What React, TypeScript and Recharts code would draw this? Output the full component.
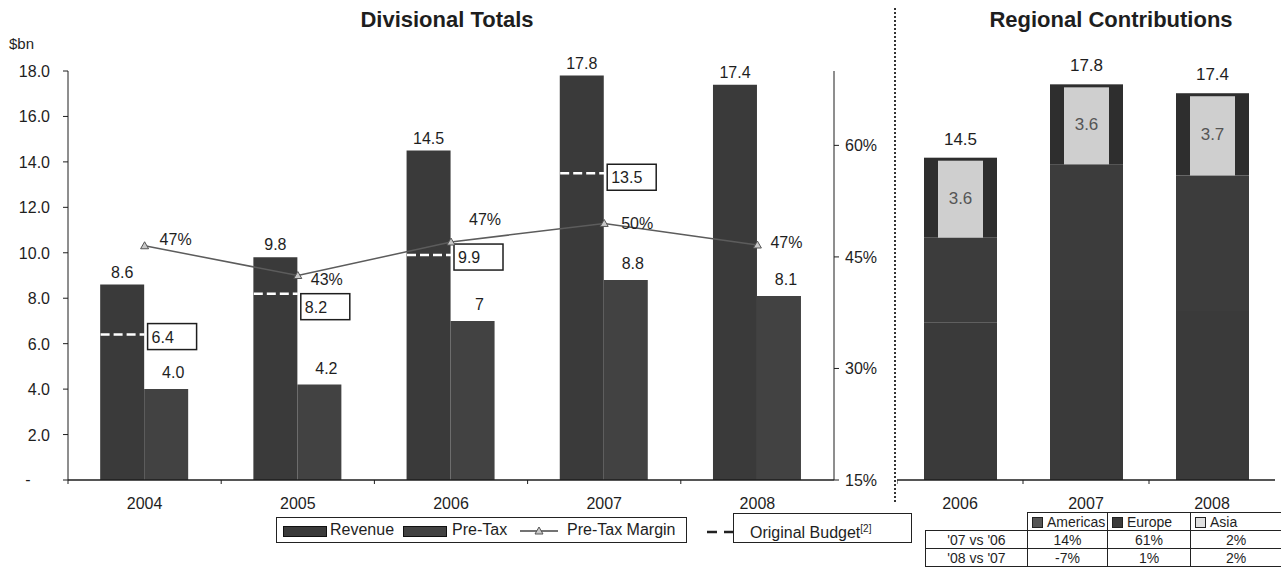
import React from 'react';
import { ComposedChart, BarChart, Bar, Line, XAxis, YAxis, LabelList } from 'recharts';

const YEARS = ['2004', '2005', '2006', '2007', '2008'];
const REVENUE = [8.6, 9.8, 14.5, 17.8, 17.4];
const PRE_TAX = [4.0, 4.2, 7.0, 8.8, 8.1];
const PRE_TAX_LABELS = ['4.0', '4.2', '7', '8.8', '8.1'];
const MARGIN = [46.5, 42.5, 47, 49.5, 46.6];
const BUDGET = [6.4, 8.2, 9.9, 13.5, null];

const LEFT_TICKS = [0, 2, 4, 6, 8, 10, 12, 14, 16, 18];
const RIGHT_TICKS = [15, 30, 45, 60];

const REGION_YEARS = ['2006', '2007', '2008'];
const AMERICAS = [7.1, 8.1, 7.6];
const EUROPE = [3.8, 6.1, 6.1];
const ASIA = [3.6, 3.6, 3.7];

const TABLE_HEAD = ['Americas', 'Europe', 'Asia'];
const TABLE_ROWS = ["'07 vs '06", "'08 vs '07"];
const TABLE_VALUES = [
  ['14%', '61%', '2%'],
  ['-7%', '1%', '2%'],
];

const FONT = '"Liberation Sans", Arial, sans-serif';
const INK = '#1e1e1e';
const BAR_DARK = '#3a3a3a';
const BAR_DARK2 = '#424242';
const BAR_W = 44;
const BAND_LEFT = 153.2;
const BAND_RIGHT = 126;
const FS = 16;

// small offsets for the margin % labels and budget boxes, one per year
const MARGIN_LABEL_DX = [31, 29, 34, 33, 29];
const MARGIN_LABEL_DY = [-7, 3, -23, 0, -3];
const BUDGET_BOX_DY = [-11, 0, -11, -9, -11];

const divData = YEARS.map((year, i) => ({
  year,
  revenue: REVENUE[i],
  preTax: PRE_TAX[i],
  margin: MARGIN[i],
  budget: BUDGET[i],
}));

const regData = REGION_YEARS.map((year, i) => ({
  year,
  americas: AMERICAS[i],
  europe: EUROPE[i],
  asia: ASIA[i],
  total: AMERICAS[i] + EUROPE[i] + ASIA[i],
}));

const makeYearTick = (band: number) => (props: any) => {
  const { x, y, payload } = props;
  const axisY = y - 8;
  return (
    <g>
      <line x1={x - band / 2} x2={x - band / 2} y1={axisY} y2={axisY + 4} stroke={INK} strokeWidth={1} />
      <text x={x} y={axisY + 29} textAnchor="middle" fontSize={FS} fontFamily={FONT} fill={INK}>
        {payload.value}
      </text>
    </g>
  );
};

const LeftTick = (props: any) => {
  const { x, y, payload } = props;
  if (payload.value === 0) {
    return (
      <text x={x - 22} y={y + 5} textAnchor="middle" fontSize={FS} fontFamily={FONT} fill={INK}>
        -
      </text>
    );
  }
  return (
    <text x={x} y={y + 6} textAnchor="end" fontSize={FS} fontFamily={FONT} fill={INK}>
      {payload.value.toFixed(1)}
    </text>
  );
};

const RightTick = (props: any) => {
  const { x, y, payload } = props;
  return (
    <text x={x} y={y + 6} textAnchor="start" fontSize={FS} fontFamily={FONT} fill={INK}>
      {payload.value}%
    </text>
  );
};

const PreTaxLabel = (props: any) => {
  const { x, y, width, index } = props;
  return (
    <text x={x + width / 2 + 7} y={y - 11} textAnchor="middle" fontSize={FS} fontFamily={FONT} fill={INK}>
      {PRE_TAX_LABELS[index]}
    </text>
  );
};

const BudgetMark = (props: any) => {
  const { cx, cy, value, index } = props;
  if (value == null || cy == null) return <g key={`b-${index}`} />;
  const top = cy + BUDGET_BOX_DY[index];
  return (
    <g key={`b-${index}`}>
      <line x1={cx - BAR_W} x2={cx} y1={cy} y2={cy} stroke="#fff" strokeWidth={2.5} strokeDasharray="9 4" />
      <rect x={cx + 3} y={top} width={49} height={26} fill="#fff" stroke={INK} strokeWidth={1.5} />
      <text x={cx + 7} y={top + 19} fontSize={FS} fontFamily={FONT} fill={INK}>
        {value.toFixed(1)}
      </text>
    </g>
  );
};

const MarginDot = (props: any) => {
  const { cx, cy, index } = props;
  return (
    <polygon
      key={`m-${index}`}
      points={`${cx},${cy - 4} ${cx - 4},${cy + 3} ${cx + 4},${cy + 3}`}
      fill="#c8c8c8"
      stroke="#555"
      strokeWidth={1}
    />
  );
};

const MarginLabel = (props: any) => {
  const { x, y, value, index } = props;
  return (
    <text
      x={x + MARGIN_LABEL_DX[index]}
      y={y + MARGIN_LABEL_DY[index] + 6}
      textAnchor="middle"
      fontSize={FS}
      fontFamily={FONT}
      fill={INK}
    >
      {Math.round(value)}%
    </text>
  );
};

const AsiaShape = (props: any) => {
  const { x, y, width, height } = props;
  return (
    <g>
      <rect x={x} y={y} width={width} height={height} fill="#2e2e2e" />
      <rect x={x + 14} y={y + 3} width={width - 28} height={height - 3} fill="#cfcfcf" />
    </g>
  );
};

const TotalLabel = (props: any) => {
  const { x, y, width, value } = props;
  return (
    <text x={x + width / 2} y={y - 13} textAnchor="middle" fontSize={17} fontFamily={FONT} fill={INK}>
      {value.toFixed(1)}
    </text>
  );
};

const AsiaLabel = (props: any) => {
  const { x, y, width, height, value } = props;
  return (
    <text x={x + width / 2} y={y + height / 2 + 6} textAnchor="middle" fontSize={17} fontFamily={FONT} fill="#555">
      {value.toFixed(1)}
    </text>
  );
};

const Swatch = ({ left, fill }: { left: number; fill: string }) => (
  <div style={{ position: 'absolute', left, top: 8, width: 42, height: 9, background: fill, border: '1px solid #111' }} />
);

const TableIcon = ({ fill }: { fill: string }) => (
  <span
    style={{
      display: 'inline-block',
      width: 9,
      height: 9,
      background: fill,
      border: '1px solid #222',
      marginRight: 4,
      verticalAlign: -1,
    }}
  />
);

const cell: React.CSSProperties = {
  border: '1.5px solid #222',
  padding: 0,
  height: 17,
  fontSize: 14,
  lineHeight: '16px',
  textAlign: 'center',
};

export default function App() {
  return (
    <div style={{ position: 'absolute', left: 0, top: 0, width: 1281, height: 571, background: '#fff', fontFamily: FONT, color: INK }}>
      <div style={{ position: 'absolute', left: 297, top: 7, width: 300, textAlign: 'center', fontSize: 22, fontWeight: 'bold', lineHeight: '26px' }}>
        Divisional Totals
      </div>
      <div style={{ position: 'absolute', left: 941, top: 7, width: 340, textAlign: 'center', fontSize: 22, fontWeight: 'bold', lineHeight: '26px' }}>
        Regional Contributions
      </div>
      <div style={{ position: 'absolute', left: 9, top: 35, fontSize: 15 }}>$bn</div>

      <div style={{ position: 'absolute', left: 0, top: 0 }}>
        <ComposedChart
          width={900}
          height={571}
          data={divData}
          margin={{ top: 71, right: 16, bottom: 61, left: 0 }}
          barCategoryGap="21%"
          barGap={0}
        >
          <XAxis
            dataKey="year"
            height={30}
            axisLine={{ stroke: INK, strokeWidth: 1.5 }}
            tickLine={false}
            tick={makeYearTick(BAND_LEFT)}
          />
          <YAxis
            yAxisId="left"
            domain={[0, 18]}
            ticks={LEFT_TICKS}
            width={68}
            tickSize={5}
            tickMargin={13}
            axisLine={{ stroke: INK }}
            tickLine={{ stroke: INK }}
            tick={LeftTick}
          />
          <YAxis
            yAxisId="right"
            orientation="right"
            domain={[15, 70]}
            ticks={RIGHT_TICKS}
            width={50}
            tickSize={5}
            tickMargin={6}
            axisLine={{ stroke: INK }}
            tickLine={{ stroke: INK }}
            tick={RightTick}
          />
          <Bar yAxisId="left" dataKey="revenue" fill={BAR_DARK} isAnimationActive={false}>
            <LabelList
              dataKey="revenue"
              position="top"
              offset={7}
              fontSize={FS}
              fontFamily={FONT}
              fill={INK}
              formatter={(v: any) => Number(v).toFixed(1)}
            />
          </Bar>
          <Bar yAxisId="left" dataKey="preTax" fill={BAR_DARK2} isAnimationActive={false}>
            <LabelList dataKey="preTax" content={PreTaxLabel} />
          </Bar>
          <Line
            yAxisId="left"
            dataKey="budget"
            stroke="none"
            dot={BudgetMark}
            activeDot={false}
            isAnimationActive={false}
          />
          <Line
            yAxisId="right"
            dataKey="margin"
            stroke="#5c5c5c"
            strokeWidth={1.5}
            dot={MarginDot}
            activeDot={false}
            isAnimationActive={false}
          >
            <LabelList dataKey="margin" content={MarginLabel} />
          </Line>
        </ComposedChart>
      </div>

      <svg style={{ position: 'absolute', left: 893, top: 8 }} width={4} height={496}>
        <line x1={2} x2={2} y1={0} y2={496} stroke="#333" strokeWidth={2} strokeDasharray="2 2" />
      </svg>

      <div style={{ position: 'absolute', left: 897, top: 0 }}>
        <BarChart
          width={384}
          height={571}
          data={regData}
          margin={{ top: 71, right: 6, bottom: 61, left: 0 }}
          barSize={73}
        >
          <XAxis
            dataKey="year"
            height={30}
            axisLine={{ stroke: INK, strokeWidth: 1.5 }}
            tickLine={false}
            tick={makeYearTick(BAND_RIGHT)}
          />
          <YAxis hide domain={[0, 18.4]} />
          <Bar dataKey="americas" stackId="r" fill={BAR_DARK} isAnimationActive={false} />
          <Bar dataKey="europe" stackId="r" fill="#3c3c3c" isAnimationActive={false} />
          <Bar dataKey="asia" stackId="r" shape={AsiaShape} isAnimationActive={false}>
            <LabelList dataKey="asia" content={AsiaLabel} />
            <LabelList dataKey="total" content={TotalLabel} />
          </Bar>
        </BarChart>
      </div>

      {/* legend, left chart */}
      <div style={{ position: 'absolute', left: 276, top: 517, width: 411, height: 26, border: '1.5px solid #222', boxSizing: 'border-box', fontSize: 16 }}>
        <Swatch left={6} fill={BAR_DARK} />
        <div style={{ position: 'absolute', left: 53, top: 3, lineHeight: '18px' }}>Revenue</div>
        <Swatch left={126} fill={BAR_DARK2} />
        <div style={{ position: 'absolute', left: 175, top: 3, lineHeight: '18px' }}>Pre-Tax</div>
        <svg style={{ position: 'absolute', left: 243, top: 6 }} width={38} height={12}>
          <line x1={0} x2={38} y1={7} y2={7} stroke="#444" strokeWidth={1.5} />
          <polygon points="19,3 15,10 23,10" fill="#c8c8c8" stroke="#555" />
        </svg>
        <div style={{ position: 'absolute', left: 290, top: 3, lineHeight: '18px' }}>Pre-Tax Margin</div>
      </div>
      <svg style={{ position: 'absolute', left: 705, top: 527 }} width={30} height={10}>
        <line x1={2} x2={30} y1={5} y2={5} stroke="#222" strokeWidth={2.5} strokeDasharray="10 7" />
      </svg>
      <div style={{ position: 'absolute', left: 733, top: 513, width: 179, height: 30, border: '1.5px solid #222', boxSizing: 'border-box', fontSize: 16 }}>
        <div style={{ position: 'absolute', left: 16, top: 6, lineHeight: '18px', whiteSpace: 'nowrap' }}>
          Original Budget<sup style={{ fontSize: 10 }}>[2]</sup>
        </div>
      </div>

      {/* growth table, right chart */}
      <table
        style={{
          position: 'absolute',
          left: 925,
          top: 512,
          width: 356,
          borderCollapse: 'collapse',
          fontFamily: FONT,
          color: INK,
          tableLayout: 'fixed',
        }}
      >
        <colgroup>
          <col style={{ width: 102 }} />
          <col style={{ width: 80 }} />
          <col style={{ width: 83 }} />
          <col style={{ width: 91 }} />
        </colgroup>
        <tbody>
          <tr>
            <td style={{ ...cell, border: 'none' }} />
            {TABLE_HEAD.map((h, i) => (
              <td key={h} style={{ ...cell, textAlign: 'left', paddingLeft: 4, whiteSpace: 'nowrap', overflow: 'hidden' }}>
                <TableIcon fill={i === 2 ? '#e0e0e0' : i === 0 ? '#555' : '#3a3a3a'} />
                {h}
              </td>
            ))}
          </tr>
          {TABLE_ROWS.map((r, ri) => (
            <tr key={r}>
              <td style={cell}>{r}</td>
              {TABLE_VALUES[ri].map((v, ci) => (
                <td key={ci} style={cell}>
                  {v}
                </td>
              ))}
            </tr>
          ))}
        </tbody>
      </table>
    </div>
  );
}
